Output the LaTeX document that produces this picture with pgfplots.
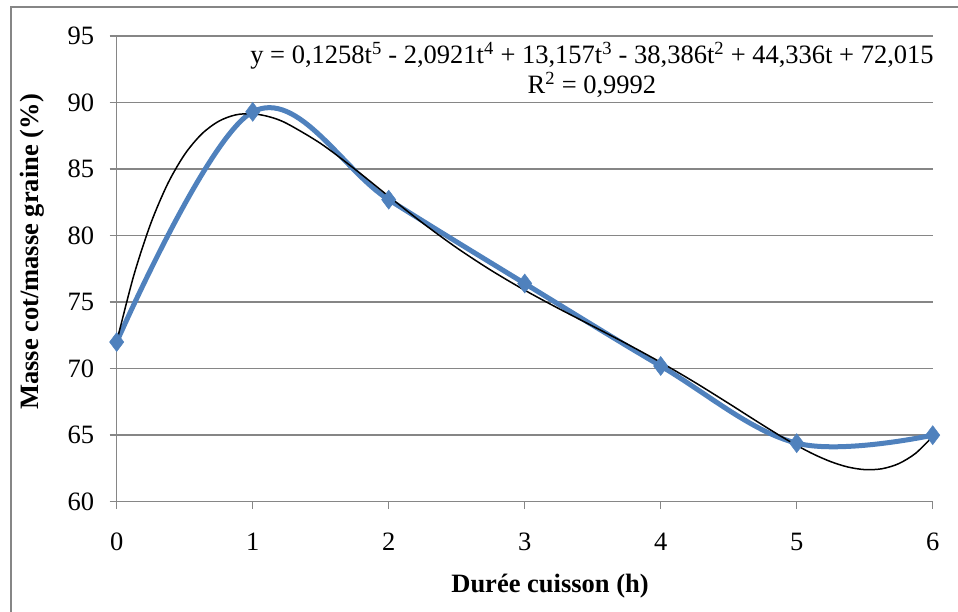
\documentclass[border=0pt]{standalone}
\usepackage{fontspec}
\setmainfont{Liberation Serif}
\usepackage{pgfplots}
\pgfplotsset{compat=1.18}
\definecolor{serieblue}{RGB}{79,129,189}
\definecolor{gridgray}{RGB}{134,134,134}

% Measured cooked mass relative to grain mass
\pgfplotstableread{
t   m
0   72.0
1   89.3
2   82.7
3   76.4
4   70.2
5   64.4
6   65.0
}\massdata

\newcommand{\chartfont}{\fontsize{26.5}{31}\selectfont}

\begin{document}
\begin{tikzpicture}[x=1pt,y=-1pt]
\useasboundingbox (0,0) rectangle (958,612);
% chart area frame
\begin{scope}
  \clip (0,0) rectangle (958,612);
  \draw[gridgray, line width=1.5pt] (11,7) rectangle (1100,700);
\end{scope}
\begin{axis}[
  at={(116.7pt,-501.7pt)}, anchor=south west,
  scale only axis, width=816pt, height=465.7pt,
  xmin=0, xmax=6, ymin=60, ymax=95,
  xtick={0,1,...,6}, ytick={60,65,...,95},
  axis lines*=left,
  axis line style={gridgray, line width=1.5pt},
  ymajorgrids, grid style={gridgray, line width=1.5pt},
  major tick style={gridgray, line width=1.5pt},
  tick align=outside, major tick length=7pt,
  /pgf/number format/assume math mode=true,
  tick label style={font=\chartfont, black},
  yticklabel style={xshift=-12pt},
  xticklabel style={yshift=-21pt},
  clip=false,
]
% measured series, smoothed
\addplot[serieblue, line width=5pt, smooth, tension=0.6,
  mark=diamond*, mark size=9.5pt,
  mark options={solid, fill=serieblue, draw=serieblue, line width=0.5pt}]
  table[x=t, y=m] {\massdata};
% 5th-order polynomial trend
\addplot[black, line width=1.5pt, smooth, tension=0.5] coordinates {
 (0,72.015) (0.125,76.982) (0.25,80.897) (0.375,83.896) (0.5,86.104)
 (0.625,87.635) (0.75,88.593) (0.875,89.072) (1,89.156) (1.125,88.920)
 (1.25,88.430) (1.5,86.919) (1.75,85.002)
 (2,82.951) (2.25,80.944) (2.5,79.083) (2.75,77.406) (3,75.897)
 (3.25,74.516) (3.5,73.196) (3.75,71.868) (4,70.473) (4.25,68.977)
 (4.5,67.387) (4.625,66.572) (4.75,65.762) (4.875,64.974) (5,64.233)
 (5.125,63.566) (5.25,63.012) (5.375,62.610) (5.5,62.412)
 (5.625,62.473) (5.75,62.859) (5.875,63.642) (6,64.906)
};
\end{axis}
\node[font=\chartfont, align=center] at (592,69.5)
  {y = 0,1258t\textsuperscript{5} - 2,0921t\textsuperscript{4} + 13,157t\textsuperscript{3} - 38,386t\textsuperscript{2} + 44,336t + 72,015\\[-1pt]
   R\textsuperscript{2} = 0,9992};
\node[font=\bfseries\chartfont] at (550,586) {Durée cuisson (h)};
\node[font=\bfseries\chartfont, rotate=90] at (32.5,252) {Masse cot/masse graine (\%)};
\end{tikzpicture}
\end{document}
